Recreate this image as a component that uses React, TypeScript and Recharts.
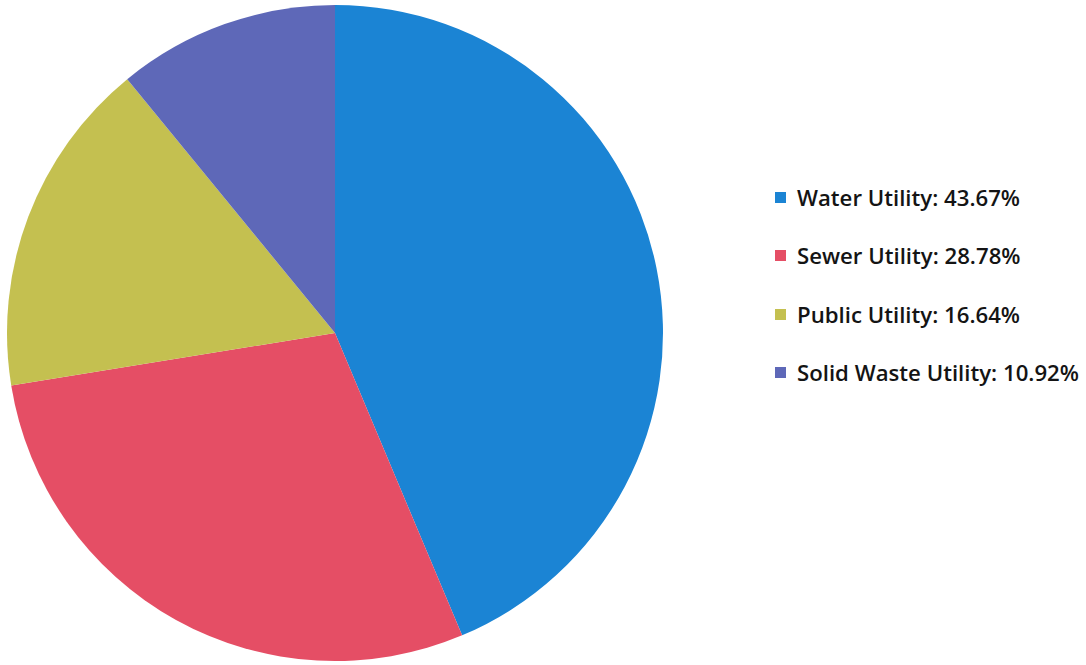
import React from "react";
import { PieChart, Pie, Cell, Legend } from "recharts";

const categories = ["Water Utility", "Sewer Utility", "Public Utility", "Solid Waste Utility"];
const shares = [43.67, 28.78, 16.64, 10.92];
const colors = ["#1b84d4", "#e54e65", "#c4c050", "#5e68b8"];

const data = categories.map((name, i) => ({ name, value: shares[i] }));

// Legend rows follow the series order, not the library's sorted payload
const renderLegend = () => (
  <div style={{ fontFamily: "'Open Sans', sans-serif", fontWeight: 600, fontSize: 22.2, color: "#141414" }}>
    {categories.map((name, i) => (
      <div key={name} style={{ display: "flex", alignItems: "center", height: 58.5 }}>
        <span
          style={{
            display: "inline-block",
            width: 11,
            height: 11,
            background: colors[i],
            marginRight: 11,
          }}
        />
        <span>{`${name}: ${shares[i].toFixed(2)}%`}</span>
      </div>
    ))}
  </div>
);

export default function App() {
  return (
    <div style={{ position: "absolute", left: 0, top: 0, background: "#fff" }}>
      <PieChart width={1086} height={665} margin={{ top: 0, right: 0, bottom: 0, left: 0 }}>
        <Pie
          data={data}
          dataKey="value"
          nameKey="name"
          cx={335}
          cy={333}
          outerRadius={328}
          startAngle={90}
          endAngle={-270}
          stroke="none"
          isAnimationActive={false}
        >
          {data.map((d, i) => (
            <Cell key={d.name} fill={colors[i]} />
          ))}
        </Pie>
        <Legend
          layout="vertical"
          content={renderLegend}
          wrapperStyle={{ left: 775, top: 168, width: 311 }}
        />
      </PieChart>
    </div>
  );
}
